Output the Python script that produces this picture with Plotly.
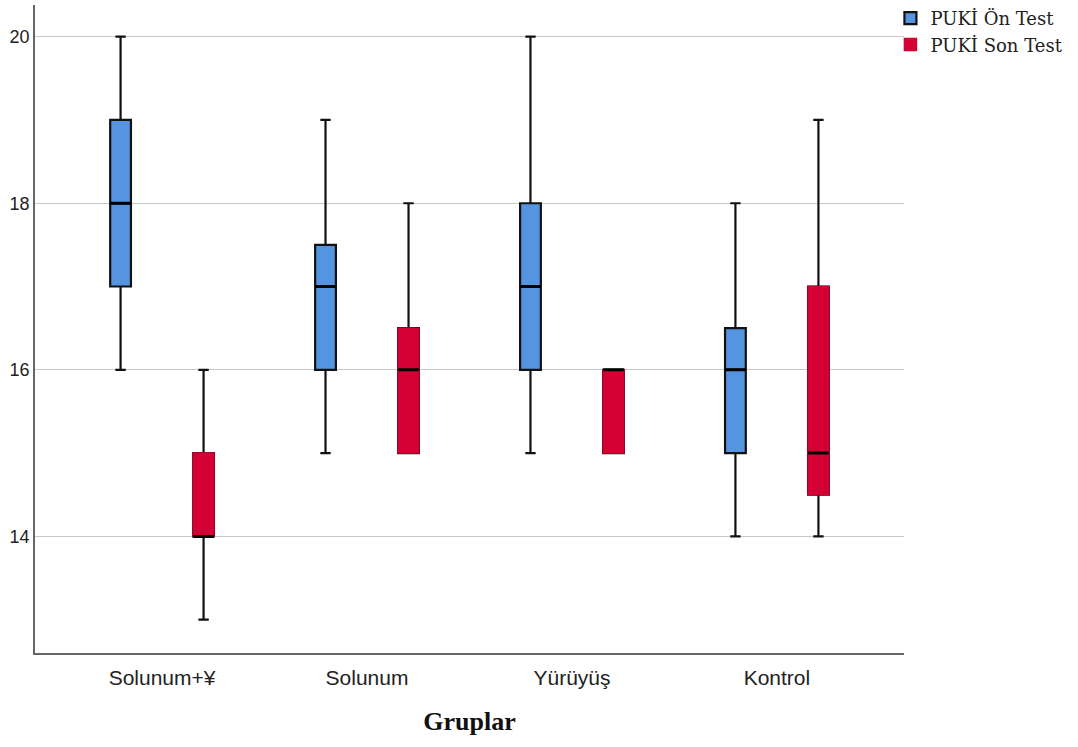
import plotly.graph_objects as go

categories = ["Solunum+\u00a5", "Solunum", "Yürüyüş", "Kontrol"]

# PUKİ Ön Test
on_lower = [16, 15, 15, 14]
on_q1 = [17, 16, 16, 15]
on_median = [18, 17, 17, 16]
on_q3 = [19, 17.5, 18, 16.5]
on_upper = [20, 19, 20, 18]

# PUKİ Son Test
son_lower = [13, 15, 15, 14]
son_q1 = [14, 15, 15, 14.5]
son_median = [14, 16, 16, 15]
son_q3 = [15, 16.5, 16, 17]
son_upper = [16, 18, 16, 19]

y_ticks = [14, 16, 18, 20]

BLUE = "#5594E0"
RED = "#D40034"

fig = go.Figure()

# Ön Test: full box with dark outline and whiskers
fig.add_trace(go.Box(
    name="PUKİ Ön Test", x=categories, offsetgroup="on",
    q1=on_q1, median=on_median, q3=on_q3,
    lowerfence=on_lower, upperfence=on_upper,
    fillcolor=BLUE, line=dict(color="#111", width=2.2),
    whiskerwidth=0.5, showlegend=True, hoverinfo="skip",
))
# Ön Test: thick median
fig.add_trace(go.Box(
    name="on_med", x=categories, offsetgroup="on",
    q1=on_median, median=on_median, q3=on_median,
    lowerfence=on_median, upperfence=on_median,
    fillcolor="rgba(0,0,0,0)", line=dict(color="black", width=3),
    whiskerwidth=0, showlegend=False, hoverinfo="skip",
))

# Son Test: whiskers (black)
fig.add_trace(go.Box(
    name="son_whisk", x=categories, offsetgroup="son",
    q1=son_q1, median=son_median, q3=son_q3,
    lowerfence=son_lower, upperfence=son_upper,
    fillcolor=RED, line=dict(color="#111", width=2.2),
    whiskerwidth=0.5, showlegend=False, hoverinfo="skip",
))
# Son Test: red box without black outline
fig.add_trace(go.Box(
    name="PUKİ Son Test", x=categories, offsetgroup="son",
    q1=son_q1, median=son_q1, q3=son_q3,
    lowerfence=son_q1, upperfence=son_q3,
    fillcolor=RED, line=dict(color=RED, width=1.5),
    whiskerwidth=0, showlegend=True, hoverinfo="skip",
))
# Son Test: thick median
fig.add_trace(go.Box(
    name="son_med", x=categories, offsetgroup="son",
    q1=son_median, median=son_median, q3=son_median,
    lowerfence=son_median, upperfence=son_median,
    fillcolor="rgba(0,0,0,0)", line=dict(color="black", width=3),
    whiskerwidth=0, showlegend=False, hoverinfo="skip",
))

fig.update_layout(
    width=1078, height=747,
    margin=dict(l=35, r=174, t=5, b=94, autoexpand=False),
    paper_bgcolor="white", plot_bgcolor="white",
    boxmode="group", boxgap=0.19, boxgroupgap=0.75,
    font=dict(family="Liberation Sans, Arial", size=16, color="#222"),
    legend=dict(
        xref="container", yref="container",
        x=0.826, xanchor="left", y=1.0, yanchor="top",
        font=dict(family="DejaVu Serif, serif", size=18, color="#222"),
        bgcolor="rgba(0,0,0,0)", tracegroupgap=0,
        itemwidth=30,
    ),
    xaxis=dict(
        type="category", range=[-0.62, 3.62], automargin=False,
        showline=True, linecolor="#666", linewidth=1.5,
        showgrid=False, ticks="", zeroline=False, ticklabelstandoff=5,
        tickfont=dict(family="Liberation Sans, Arial", size=21, color="#222"),
        title=dict(text="<b>Gruplar</b>",
                   font=dict(family="Liberation Serif, serif", size=26, color="#111"),
                   standoff=24),
    ),
    yaxis=dict(
        range=[12.6, 20.38], tickvals=y_ticks, automargin=False,
        showline=True, linecolor="#666", linewidth=1.5,
        showgrid=True, gridcolor="#c8c8c8", gridwidth=1.2,
        ticks="", zeroline=False,
        tickfont=dict(family="Liberation Sans, Arial", size=18, color="#222"),
    ),
)

fig.write_html("out.html", config={"displayModeBar": False},
               post_script="document.body.style.margin='0';")
